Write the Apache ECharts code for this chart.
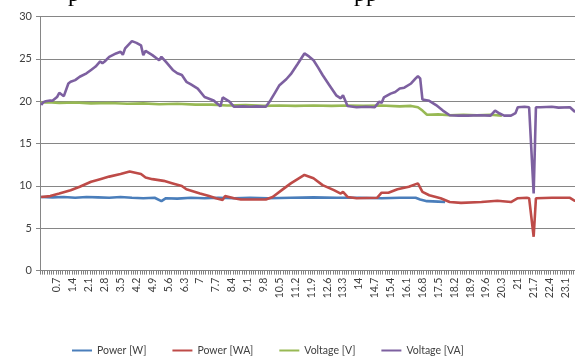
<!DOCTYPE html>
<html>
<head>
<meta charset="utf-8">
<script src="https://cdn.jsdelivr.net/npm/echarts@6/dist/echarts.min.js"></script>
<style>html,body{margin:0;padding:0;background:#fff}#c{width:575px;height:356px}</style>
</head>
<body>
<div id="c"></div>
<script>
// Category axis: hours 0.0 .. 24.0 in 0.1 steps
var categories = [];
for (var i = 0; i <= 240; i++) categories.push(String(i / 10));

var seriesNames = ['Power [W]', 'Power [WA]', 'Voltage [V]', 'Voltage [VA]'];

// Readings (hour, value)
var powerW_h = [0,0.5,1,1.5,2,2.5,3,3.5,4,4.5,5,5.3,5.5,6,6.6,7.2,7.8,8.5,9.2,10,11,12,13,14,15,15.8,16.5,16.7,17,17.5,17.8];
var powerW_v = [8.7,8.65,8.7,8.6,8.7,8.65,8.6,8.7,8.6,8.55,8.6,8.2,8.55,8.5,8.6,8.55,8.6,8.55,8.6,8.55,8.6,8.65,8.6,8.6,8.55,8.6,8.6,8.4,8.2,8.15,8.1];

var powerWA_h = [0,0.4,0.8,1.3,1.7,2.2,2.6,3,3.5,3.9,4.4,4.6,4.9,5.4,5.8,6.2,6.4,7,7.4,7.7,8,8.1,8.5,8.8,9.9,10.2,10.6,11,11.6,12,12.4,12.9,13.2,13.3,13.5,13.9,14.8,15,15.3,15.7,16.2,16.6,16.8,17.1,17.6,18,18.5,19.4,20.1,20.7,21,21.4,21.5,21.7,21.8,22.5,23.3,23.5,24];
var powerWA_v = [8.7,8.8,9.1,9.5,9.9,10.5,10.8,11.1,11.4,11.7,11.4,11.0,10.8,10.6,10.3,10.0,9.6,9.1,8.8,8.55,8.35,8.8,8.55,8.4,8.4,8.7,9.5,10.3,11.3,10.9,10.1,9.5,9.1,9.3,8.7,8.55,8.6,9.2,9.2,9.6,9.9,10.3,9.3,8.9,8.55,8.1,8.0,8.1,8.25,8.1,8.55,8.6,8.55,4.0,8.55,8.6,8.6,8.25,8.3];

var voltageV_h = [0,0.3,0.8,1.5,2.2,3,3.8,4.5,5.2,6,6.8,7.5,8.2,9,9.8,10.5,11.2,12,12.8,13.5,14.2,15,15.8,16.3,16.6,16.8,17,17.5,18,18.6,19.2,19.8,20.3];
var voltageV_v = [19.85,19.9,19.8,19.85,19.75,19.8,19.7,19.75,19.65,19.7,19.6,19.6,19.5,19.55,19.45,19.5,19.45,19.5,19.45,19.5,19.45,19.5,19.4,19.45,19.3,18.9,18.4,18.45,18.35,18.4,18.35,18.4,18.3];

var voltageVA_h = [0,0.1,0.2,0.4,0.5,0.7,0.8,0.9,1,1.2,1.3,1.5,1.7,2,2.2,2.4,2.6,2.7,2.8,3,3.3,3.5,3.6,3.7,4,4.2,4.4,4.5,4.6,4.9,5.2,5.3,5.5,5.8,6,6.2,6.4,6.6,6.9,7.2,7.4,7.6,7.9,8,8.3,8.5,8.9,9.2,9.5,9.9,10.1,10.3,10.5,10.8,11,11.3,11.6,11.8,12,12.2,12.4,12.7,13,13.2,13.3,13.5,13.9,14.3,14.7,14.9,15,15.1,15.4,15.6,15.8,16,16.3,16.5,16.6,16.7,16.8,17.1,17.4,17.7,18,18.4,18.8,19.3,19.8,20,20.2,20.4,20.7,20.9,21,21.3,21.5,21.7,21.8,22,22.5,22.8,23.3,23.5,23.7,24];
var voltageVA_v = [19.55,19.9,20.0,20.1,20.05,20.5,21.0,20.8,20.6,22.1,22.3,22.5,22.9,23.3,23.7,24.1,24.7,24.5,24.7,25.25,25.65,25.85,25.5,26.25,27.1,26.9,26.6,25.45,25.95,25.45,24.85,25.25,24.65,23.7,23.3,23.1,22.3,22.0,21.5,20.5,20.3,20.1,19.4,20.45,19.95,19.35,19.4,19.35,19.4,19.35,20.1,21.0,21.9,22.6,23.2,24.4,25.65,25.3,24.85,24.0,23.1,21.9,20.7,20.35,20.7,19.45,19.3,19.35,19.3,19.95,19.8,20.45,20.9,21.1,21.5,21.6,22.1,22.7,22.95,22.7,20.2,20.05,19.55,18.9,18.35,18.3,18.3,18.35,18.3,18.9,18.55,18.3,18.3,18.6,19.3,19.35,19.3,9.1,19.3,19.3,19.35,19.25,19.3,18.8,18.9,19.0];

var yTicks = [0, 5, 10, 15, 20, 25, 30];

function pairs(hs, vs) {
  return hs.map(function (h, k) { return [Math.round(h * 10), vs[k]]; });
}

var colors = ['#4a7ebb', '#be4b48', '#98b954', '#7d60a0'];
var chart = echarts.init(document.getElementById('c'), null, {renderer: 'canvas'});
var font = 'Lato';

function mk(name, data, color) {
  return {
    name: name, type: 'line', data: data, symbol: 'none', smooth: false,
    lineStyle: {width: 2.6, color: color}, itemStyle: {color: color},
    animation: false, z: 2
  };
}

chart.setOption({
  animation: false,
  color: colors,
  grid: {left: 40, width: 547, top: 16.6, height: 254, containLabel: false, outerBoundsMode: 'none'},
  graphic: [
    {type: 'text', left: 68, top: -17, style: {text: 'p', font: '24px "Liberation Serif"', fill: '#000'}},
    {type: 'text', left: 354, top: -17, style: {text: 'pp', font: '24px "Liberation Serif"', fill: '#000'}}
  ],
  legend: {
    data: seriesNames, left: 67, top: 340, itemWidth: 20, itemHeight: 2, itemGap: 26,
    icon: 'rect',
    textStyle: {fontFamily: font, fontSize: 10.5, color: '#404040'}
  },
  xAxis: {
    type: 'category', data: categories, boundaryGap: true,
    axisLine: {lineStyle: {color: '#868686', width: 1}},
    axisTick: {show: true, interval: 0, length: 4, lineStyle: {color: '#808080', width: 1}},
    axisLabel: {
      rotate: 90, fontFamily: font, fontSize: 10.5, color: '#404040', margin: 7,
      interval: function (idx) { return idx > 0 && idx % 7 === 0; }
    },
    splitLine: {show: false}
  },
  yAxis: {
    type: 'value', min: yTicks[0], max: yTicks[yTicks.length - 1], interval: 5,
    axisLine: {show: true, lineStyle: {color: '#868686'}},
    axisTick: {show: true, length: 4, lineStyle: {color: '#868686'}},
    axisLabel: {fontFamily: font, fontSize: 11, color: '#404040', margin: 8},
    splitLine: {lineStyle: {color: '#868686', width: 1}}
  },
  series: [
    mk(seriesNames[0], pairs(powerW_h, powerW_v), colors[0]),
    mk(seriesNames[1], pairs(powerWA_h, powerWA_v), colors[1]),
    mk(seriesNames[2], pairs(voltageV_h, voltageV_v), colors[2]),
    mk(seriesNames[3], pairs(voltageVA_h, voltageVA_v), colors[3])
  ]
});
</script>
</body>
</html>
